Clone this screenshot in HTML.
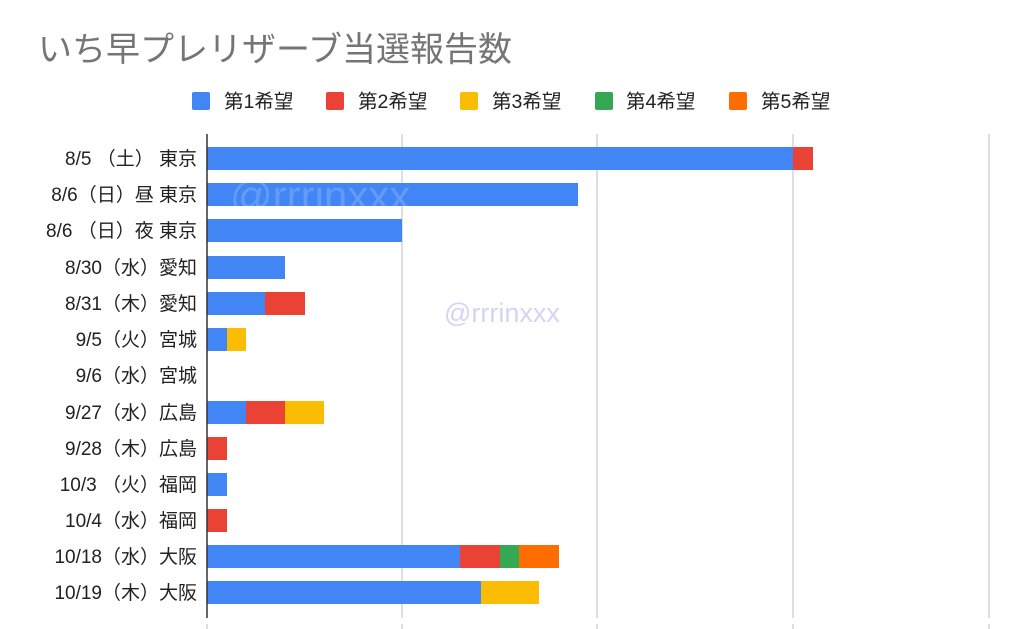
<!DOCTYPE html>
<html><head><meta charset="utf-8"><style>
html,body{margin:0;padding:0;background:#fff;}
svg{display:block;font-family:"Liberation Sans","Noto Sans CJK JP",sans-serif;}
</style></head><body>
<svg width="1024" height="629" viewBox="0 0 1024 629" xmlns="http://www.w3.org/2000/svg">
<rect width="1024" height="629" fill="#fff"/>
<text x="38" y="61" font-size="34" fill="#757575">いち早プレリザーブ当選報告数</text>
<g font-size="19.5" fill="#222">
<rect x="192" y="92" width="18" height="18" rx="2" fill="#4285f4"/><text x="224" y="108">第1希望</text>
<rect x="326" y="92" width="18" height="18" rx="2" fill="#ea4335"/><text x="358" y="108">第2希望</text>
<rect x="460" y="92" width="18" height="18" rx="2" fill="#fbbc04"/><text x="492" y="108">第3希望</text>
<rect x="595" y="92" width="18" height="18" rx="2" fill="#34a853"/><text x="626" y="108">第4希望</text>
<rect x="729" y="92" width="18" height="18" rx="2" fill="#ff6d01"/><text x="761" y="108">第5希望</text>
</g>
<g stroke="#cccccc" stroke-width="1.3">
<line x1="402" y1="134" x2="402" y2="618"/><line x1="597" y1="134" x2="597" y2="618"/>
<line x1="793" y1="134" x2="793" y2="618"/><line x1="989" y1="134" x2="989" y2="618"/>
<line x1="207" y1="624" x2="207" y2="629"/><line x1="402" y1="624" x2="402" y2="629"/><line x1="597" y1="624" x2="597" y2="629"/><line x1="793" y1="624" x2="793" y2="629"/><line x1="989" y1="624" x2="989" y2="629"/>
</g>
<g id="bars">
<rect x="207" y="147" width="586" height="23" fill="#4285f4"/><rect x="793" y="147" width="20" height="23" fill="#ea4335"/>
<rect x="207" y="183" width="371" height="23" fill="#4285f4"/>
<rect x="207" y="219" width="195" height="23" fill="#4285f4"/>
<rect x="207" y="256" width="78" height="23" fill="#4285f4"/>
<rect x="207" y="292" width="58" height="23" fill="#4285f4"/><rect x="265" y="292" width="40" height="23" fill="#ea4335"/>
<rect x="207" y="328" width="20" height="23" fill="#4285f4"/><rect x="227" y="328" width="19" height="23" fill="#fbbc04"/>
<rect x="207" y="401" width="39" height="23" fill="#4285f4"/><rect x="246" y="401" width="39" height="23" fill="#ea4335"/><rect x="285" y="401" width="39" height="23" fill="#fbbc04"/>
<rect x="207" y="437" width="20" height="23" fill="#ea4335"/>
<rect x="207" y="473" width="20" height="23" fill="#4285f4"/>
<rect x="207" y="509" width="20" height="23" fill="#ea4335"/>
<rect x="207" y="545" width="253" height="23" fill="#4285f4"/><rect x="460" y="545" width="40" height="23" fill="#ea4335"/><rect x="500" y="545" width="19" height="23" fill="#34a853"/><rect x="519" y="545" width="40" height="23" fill="#ff6d01"/>
<rect x="207" y="581" width="274" height="23" fill="#4285f4"/><rect x="481" y="581" width="58" height="23" fill="#fbbc04"/>
</g>
<line x1="207" y1="134" x2="207" y2="618" stroke="#333" stroke-width="1.5"/>
<g font-size="19" fill="#222" text-anchor="end">
<text x="197" y="165">8/5 （土） 東京</text>
<text x="197" y="201">8/6（日）昼 東京</text>
<text x="197" y="237">8/6 （日）夜 東京</text>
<text x="197" y="274">8/30（水）愛知</text>
<text x="197" y="310">8/31（木）愛知</text>
<text x="197" y="346">9/5（火）宮城</text>
<text x="197" y="382">9/6（水）宮城</text>
<text x="197" y="419">9/27（水）広島</text>
<text x="197" y="455">9/28（木）広島</text>
<text x="197" y="491">10/3 （火）福岡</text>
<text x="197" y="527">10/4（水）福岡</text>
<text x="197" y="563">10/18（水）大阪</text>
<text x="197" y="599">10/19（木）大阪</text>
</g>
<text x="230" y="210" font-size="42" fill="#ffffff" fill-opacity="0.18">@rrrinxxx</text>
<text x="444" y="322" font-size="27" fill="#d4d4f4">@rrrinxxx</text>
</svg>
</body></html>
